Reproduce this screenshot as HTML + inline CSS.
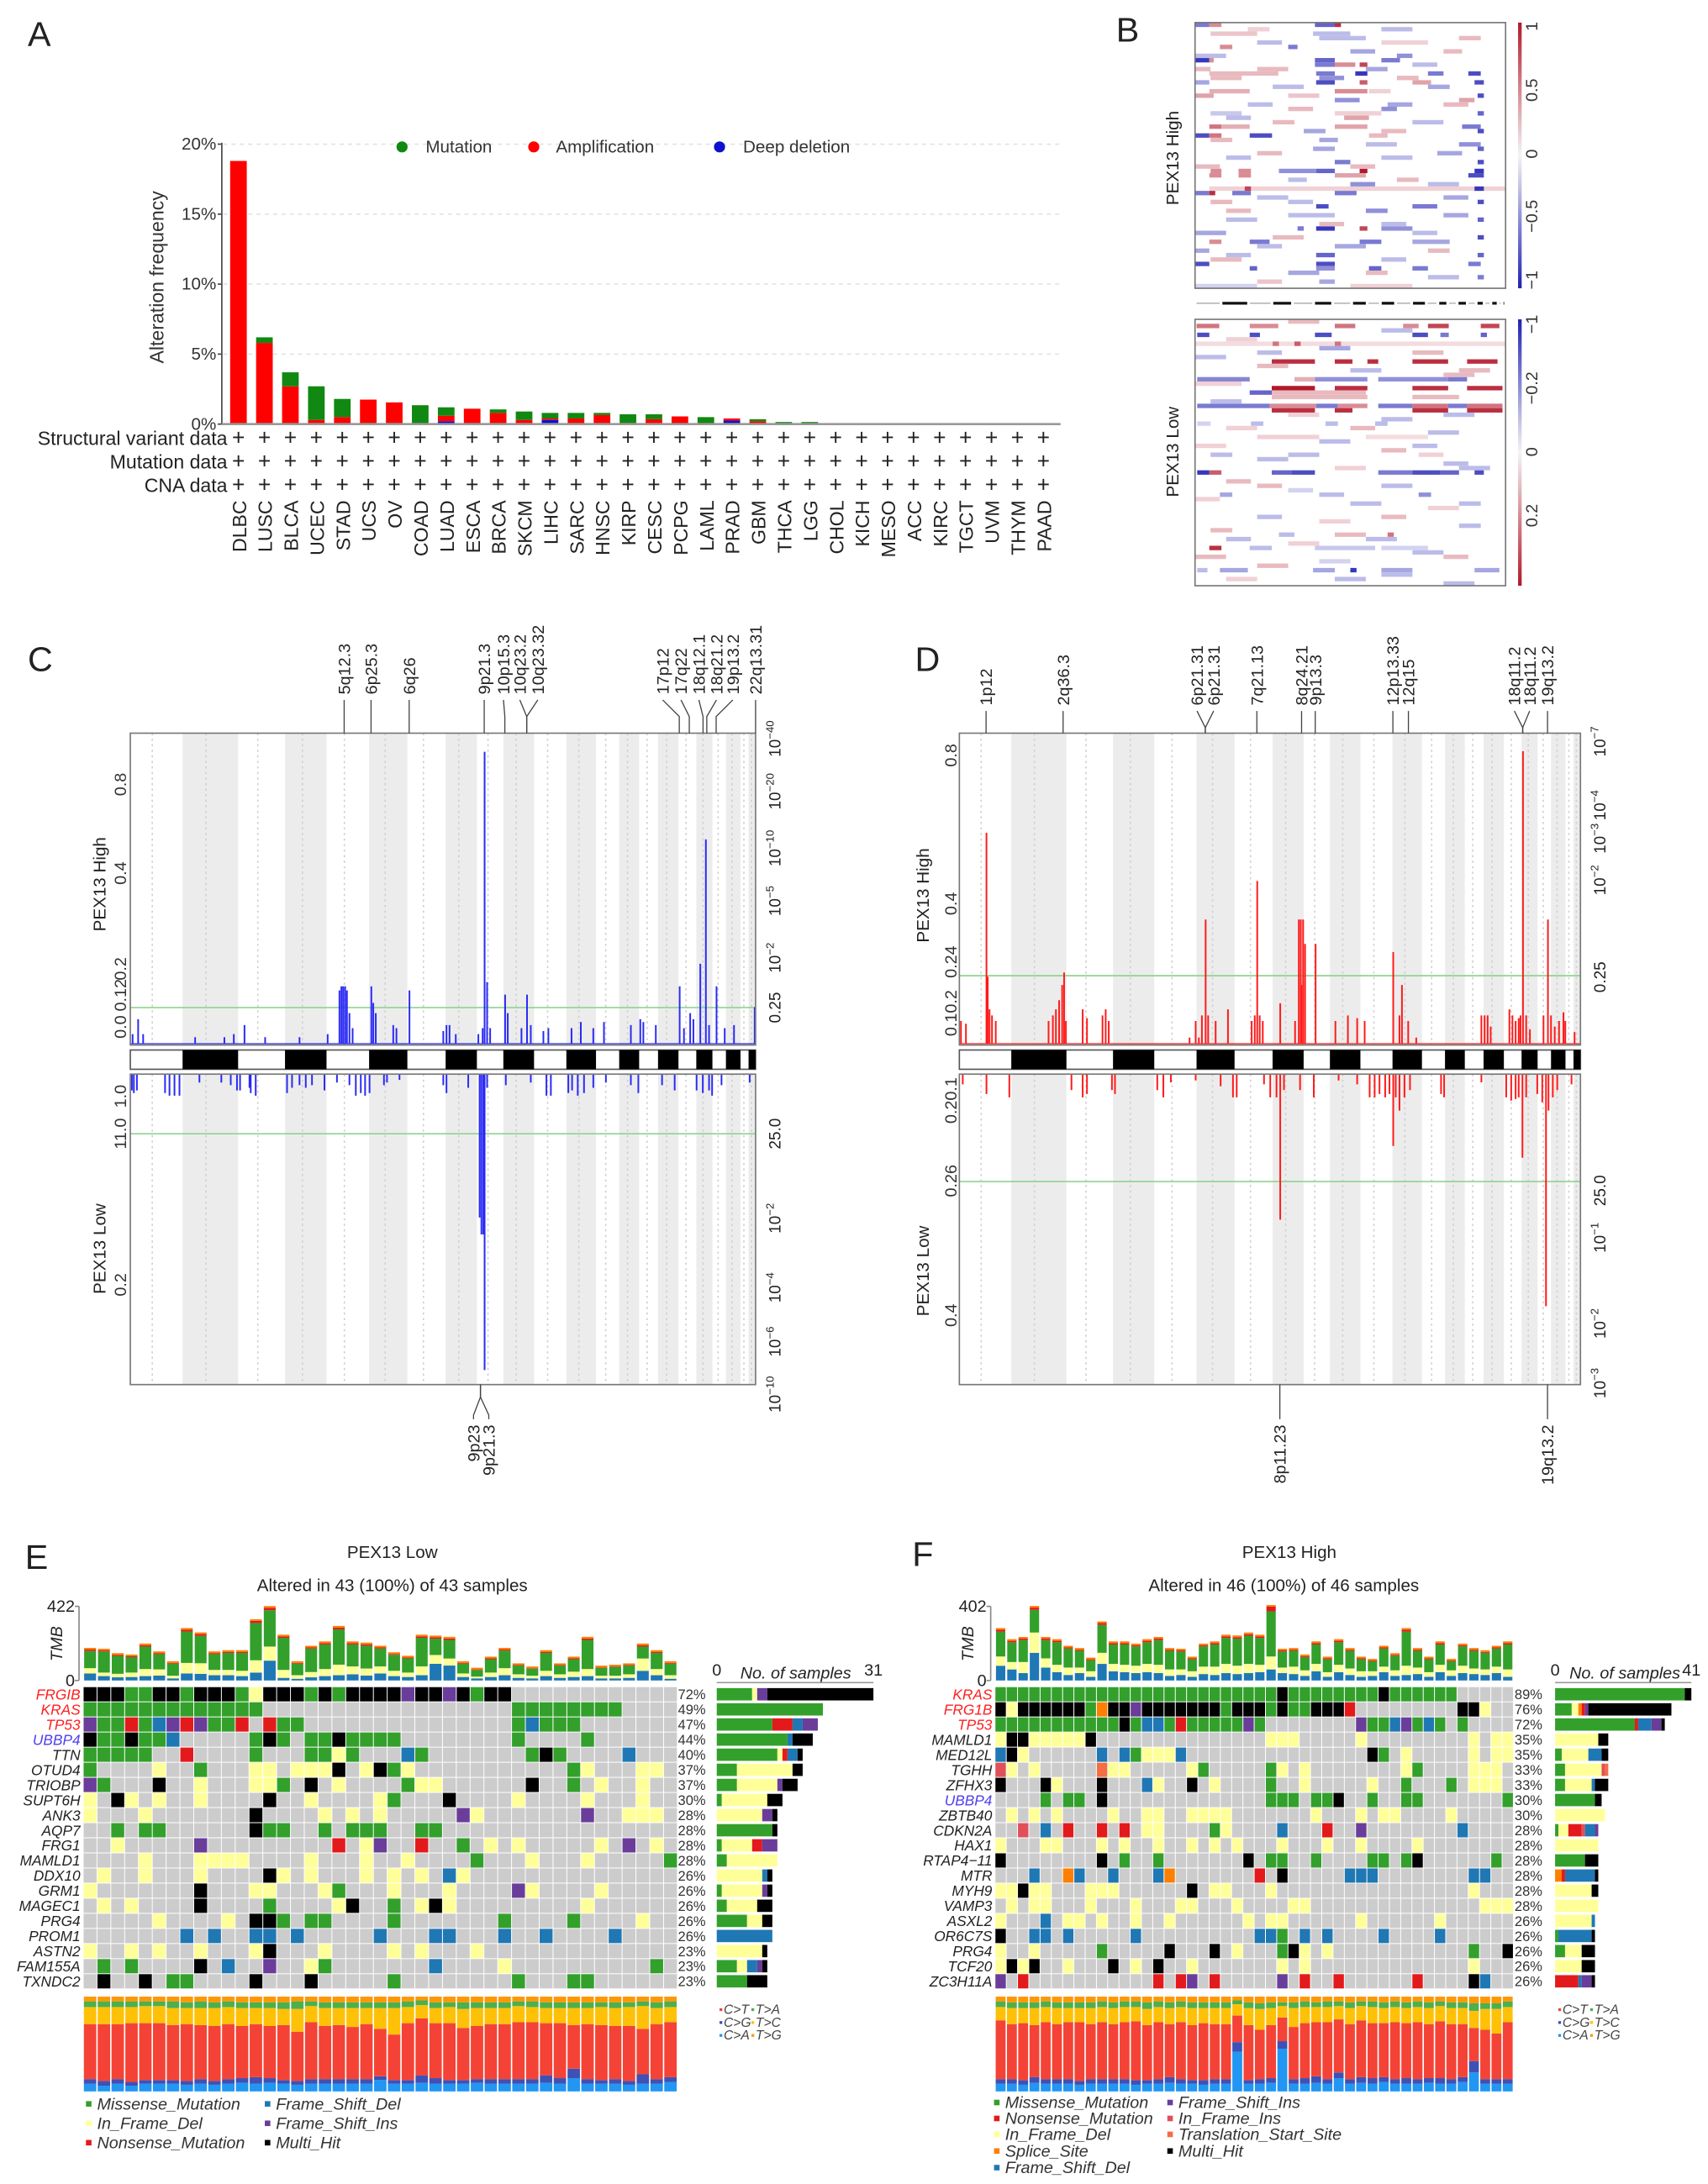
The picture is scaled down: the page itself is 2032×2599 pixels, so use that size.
<!DOCTYPE html>
<html><head><meta charset="utf-8">
<style>
html,body{margin:0;padding:0;background:#fff}
svg{display:block}
text{font-family:"Liberation Sans",Arial,sans-serif}
</style></head>
<body>
<svg id="fig" xmlns="http://www.w3.org/2000/svg" width="2032" height="2599" viewBox="0 0 1232 1575.8" preserveAspectRatio="none"></svg>
<script>
// ---------------- DATA: Panel A ----------------
const aCats=['DLBC','LUSC','BLCA','UCEC','STAD','UCS','OV','COAD','LUAD','ESCA','BRCA','SKCM','LIHC','SARC','HNSC','KIRP','CESC','PCPG','LAML','PRAD','GBM','THCA','LGG','CHOL','KICH','MESO','ACC','KIRC','TGCT','UVM','THYM','PAAD'];
const aMut=[0,0.4,1.0,2.4,1.3,0,0,1.35,0.6,0,0.25,0.6,0.4,0.4,0.15,0.7,0.35,0,0.5,0,0.15,0.15,0.15,0,0,0,0,0,0,0,0,0];
const aAmp=[18.8,5.8,2.7,0.3,0.5,1.75,1.55,0,0.4,1.1,0.8,0.3,0.1,0.4,0.65,0,0.35,0.55,0,0.15,0.2,0,0,0,0,0,0,0,0,0,0,0];
const aDel=[0,0,0,0,0,0,0,0,0.2,0,0,0,0.3,0,0,0,0,0,0,0.25,0,0,0,0,0,0,0,0,0,0,0,0];
const aTicks=[0,5,10,15,20];
const aRows=['Structural variant data','Mutation data','CNA data'];

// ---------------- DATA: genome layout ----------------
const chromBounds=[0,.0836,.1724,.2474,.3138,.3819,.4431,.5043,.5543,.5966,.6457,.6974,.7448,.7819,.8138,.8440,.8767,.9052,.9310,.9526,.9759,.9888,1];

// ---------------- DATA: Panel B (row, start%, end%, value) ----------------
const bUpSeg=[[0,0,4.6,-0.6],[0,4.6,8.5,0.5],[0,38.6,45,-0.7],[0,45,47,0.9],[1,17,24,0.2],[2,38,50,-0.3],
[8,0,4.6,-0.9],[8,4.6,6,0.5],[8,38.6,45,-0.7],[8,60,66,-0.6],[9,38.6,45,-0.6],[9,45,51.6,0.5],[9,53,55.5,0.8],
[11,4.6,26.8,0.3],[11,39,45,-0.6],[11,51.6,55.5,-0.9],[11,88,92,-0.8],[11,75,80,-0.6],[13,0,4.6,-0.4],[13,39,45,-0.8],[13,53,55.5,0.7],[13,90,93,-0.8],[13,70,76,0.4],
[15,4.6,17.6,0.35],[15,45,55.5,0.5],[15,56,63,0.2],[18,17,25,-0.3],[18,62,70,-0.4],[20,45,60,0.2],
[23,4.6,8.5,0.6],[23,8.5,17.6,0.35],[23,45,55.5,0.4],[23,86,92,-0.6],[25,0,4.6,-0.8],[25,4.6,8.5,0.6],[25,17.6,24.8,-0.8],[25,56,62,0.3],
[28,38,45,-0.4],[30,60,70,-0.3],[33,53,55.5,1],[33,27,39,-0.5],[33,39,45,-0.7],[33,90,93,-0.9],[33,5,8.5,0.5],[33,14,18,0.5],
[34,4.6,8.5,0.5],[34,14,18,0.5],[34,45,55,0.4],[34,88,93,-0.8],[37,4.6,100,0.2],[37,16,18,0.8],[37,90,93,-0.9],
[38,0,4.6,-0.6],[38,4.6,6.5,0.9],[38,12,18,-0.6],[38,45,52,-0.6],[41,39,43,-0.8],[41,70,78,-0.6],[43,30,45,-0.3],
[46,39,45,-0.9],[46,53,55.5,0.8],[46,33,35,-0.6],[46,60,70,-0.5],[49,4.6,8.5,0.5],[49,17.6,24,-0.6],[49,53,60,-0.6],[49,70,82,-0.4],
[51,0,4.6,-0.4],[52,39,45,-0.7],[54,0,4.6,-0.8],[54,39,45,-0.8],[54,88,92,-0.6],[55,17.6,20,-0.7],[55,39,45,-0.5],[55,56,60,-0.7],[55,70,75,-0.6],[58,40,45,-0.4],
[16,91,93,-0.8],[20,91,93,-0.7],[24,91,93,-0.8],[28,91,93,-0.7],[31,91,93,-0.8],[40,91,93,-0.8],[44,91,93,-0.7],[48,91,93,-0.8],[52,91,93,-0.7],[57,91,93,-0.6],
[2,5,20,0.25],[3,40,55,-0.3],[4,60,75,0.2],[5,8,12,0.5],[5,30,33,-0.6],[6,50,58,-0.4],[6,80,86,0.3],[7,0,10,-0.3],[7,65,70,-0.5],[10,20,30,0.3],[10,55,62,-0.4],[12,5,15,0.3],[12,40,48,-0.5],[14,25,35,-0.3],[14,75,82,-0.4],[16,0,6,0.4],[17,45,53,-0.5],[17,85,90,0.4],[19,30,38,0.3],[19,60,65,-0.5],[21,10,18,-0.3],[21,48,56,0.4],[22,70,80,-0.3],[24,35,42,-0.4],[26,5,12,0.3],[27,55,65,-0.3],[29,20,28,0.3],[29,78,86,-0.4],[31,45,50,-0.6],[32,0,8,0.3],[35,30,36,-0.3],[35,65,72,0.3],[36,50,58,-0.5],[39,20,30,-0.3],[39,80,88,-0.4],[40,5,12,0.3],[42,55,62,-0.5],[44,10,20,-0.3],[45,40,48,0.3],[47,0,10,-0.4],[47,70,78,-0.3],[48,25,35,0.3],[50,45,55,-0.4],[53,5,15,0.3],[53,60,68,-0.3],[56,30,40,-0.4],[57,75,85,-0.3],[59,0,20,-0.2],[59,50,70,0.2],
[1,60,70,-0.3],[3,85,92,0.3],[4,20,28,-0.3],[9,70,78,-0.3],[10,0,5,0.3],[12,65,72,0.3],[16,30,40,0.25],[18,80,88,0.3],[20,5,15,-0.25],[22,25,32,0.3],[24,60,68,0.3],[26,40,46,-0.4],[27,85,92,-0.5],[30,10,18,-0.3],[32,50,58,0.3],[36,75,85,-0.3],[40,30,38,-0.3],[42,10,18,0.3],[43,80,88,-0.4],[45,60,68,-0.3],[50,20,28,-0.3],[51,75,82,0.3],[52,10,18,-0.3],[56,55,62,0.3],[58,20,28,0.25]];
const bLowSeg=[[1,0.5,7.8,0.6],[1,17.6,26.8,0.5],[1,45,51.6,0.6],[1,67,72,0.5],[1,75,81.7,0.8],[1,92,98,0.8],
[3,0.7,4.6,-0.8],[3,17.6,20.9,-0.8],[3,38.6,44,-0.8],[3,70,75,-0.8],[3,79,81.7,-0.6],[3,92,94,-0.7],
[5,0,100,0.15],[5,25,27,0.6],[5,32,34,0.7],[5,45,47,0.6],
[9,24.7,38.6,0.9],[9,45,50.7,0.9],[9,55.5,59,0.9],[9,70,81.5,0.9],[9,87.6,97.4,0.9],
[13,0.7,17.6,-0.55],[13,32,38.6,0.35],[13,38.6,55.5,-0.5],[13,59,81.5,-0.5],[13,81.5,87.6,-0.6],
[15,24.7,38.6,1],[15,45,55.5,0.9],[15,70,81.5,0.9],[15,87.6,99,0.9],[16,17.6,24.7,-0.7],[16,24.7,55,0.3],
[17,24.7,55.5,0.3],[17,70,85,0.3],
[19,0.7,24,-0.6],[19,24,39,0.5],[19,39,46,-0.6],[19,46,55.5,0.5],[19,59,70,-0.6],[19,70,81.5,0.6],[19,81.5,87.6,-0.6],[19,87.6,99,0.6],
[20,24.7,38.6,0.9],[20,45,50.7,0.9],[20,70,81.5,0.9],[20,87.6,99,0.9],
[23,0.7,5,-0.2],[23,18,22,-0.3],[23,42,46,-0.3],[23,58,62,-0.3],[26,20,40,0.2],[26,55,75,0.15],
[30,5,12,-0.3],[30,30,40,-0.3],[30,72,80,0.2],
[34,0.7,4.6,-0.9],[34,4.6,8.5,0.7],[34,24.7,31,-0.7],[34,31,38.6,-0.8],[34,59,70,-0.6],[34,70,79,-0.8],[34,79,85,-0.7],[34,90,93,-0.8],
[39,8,12,-0.4],[39,40,48,-0.3],[39,72,76,-0.5],[48,27,32,-0.3],[48,45,55,0.3],[48,62,64,0.6],
[51,4.6,8.5,0.9],[51,17.6,24.7,-0.3],[51,38.6,58,-0.25],[51,60,75,-0.2],
[56,0.7,4,-0.3],[56,8,17,-0.4],[56,38,45,-0.4],[56,50,52,-0.9],[56,60,70,-0.4],[56,90,98,-0.4],
[0,30,40,0.3],[2,60,70,-0.3],[4,10,20,0.2],[6,40,50,-0.4],[7,70,80,0.3],[8,0,10,-0.3],[10,20,30,0.3],[11,50,60,-0.3],[12,80,90,0.3],[14,0,15,0.2],[18,5,15,-0.3],[21,30,40,0.2],[22,60,70,-0.3],[24,10,20,0.2],[25,75,85,-0.3],[27,40,50,-0.3],[28,0,10,0.2],[29,60,68,0.3],[31,20,30,-0.3],[32,80,88,-0.3],[33,45,55,0.2],[36,10,18,0.3],[37,60,70,-0.3],[38,30,38,-0.2],[40,0,8,0.2],[41,50,60,-0.3],[42,75,85,0.2],[44,20,28,-0.3],[45,40,50,0.2],[46,85,92,-0.3],[47,5,12,0.3],[49,55,65,-0.3],[50,30,40,0.2],[52,70,80,-0.3],[53,0,10,0.3],[54,40,50,-0.2],[55,20,30,0.3],[57,60,70,-0.3],[58,10,20,0.2],[59,80,90,-0.3],
[7,20,28,-0.3],[11,85,95,0.3],[21,80,90,-0.3],[24,50,58,0.3],[28,70,78,-0.3],[33,85,95,-0.3],[37,20,28,0.3],[41,85,92,-0.3],[44,60,68,0.3],[49,10,18,-0.3],[53,80,88,0.3],[58,45,55,-0.3]];

// ---------------- DATA: Panel C (position permille, score) ----------------
const cHigh=[[3,0.03],[12,0.08],[20,0.03],[103,0.02],[150,0.02],[165,0.03],[182,0.06],[215,0.02],[270,0.02],[315,0.03],[334,0.16],[337,0.17],[340,0.17],[343,0.17],[346,0.16],[350,0.1],[355,0.05],[385,0.17],[388,0.13],[392,0.1],[420,0.06],[425,0.05],[446,0.16],[500,0.04],[505,0.06],[510,0.06],[520,0.03],[556,0.03],[563,0.05],[566,0.95],[570,0.18],[575,0.05],[599,0.15],[603,0.1],[625,0.05],[634,0.15],[640,0.06],[660,0.04],[668,0.05],[705,0.05],[720,0.07],[740,0.05],[757,0.07],[800,0.06],[815,0.08],[820,0.07],[840,0.06],[878,0.17],[885,0.05],[895,0.1],[900,0.08],[911,0.22],[920,0.55],[925,0.06],[937,0.17],[950,0.05],[965,0.06],[998,0.12]];
const cLow=[[2,0.06],[5,0.07],[10,0.06],[55,0.07],[62,0.08],[70,0.08],[78,0.08],[110,0.03],[145,0.03],[160,0.04],[170,0.06],[175,0.06],[190,0.05],[192,0.07],[200,0.08],[250,0.07],[258,0.05],[270,0.04],[280,0.05],[290,0.04],[310,0.06],[330,0.03],[350,0.04],[360,0.08],[368,0.07],[375,0.08],[382,0.07],[405,0.04],[410,0.03],[430,0.02],[500,0.04],[505,0.07],[540,0.05],[558,0.16],[561,0.17],[564,0.17],[566,0.29],[570,0.05],[600,0.04],[640,0.03],[665,0.08],[672,0.08],[700,0.07],[706,0.06],[715,0.08],[725,0.07],[740,0.05],[760,0.03],[800,0.04],[812,0.07],[850,0.04],[870,0.06],[905,0.06],[915,0.07],[925,0.06],[930,0.08],[945,0.04],[990,0.03]];
const cTopLabels=[['5q12.3',342,0],['6p25.3',385,0],['6q26',446,0],['9p21.3',566,0],['10p15.3',599,-1],['10q23.2',634,-5],['10q23.32',634,8],['17p12',878,-12],['17q22',894,-6],['18q12.1',916,-3],['18q21.2',922,7],['19p13.2',937,12],['22q13.31',1000,0]];
const cBotLabels=[['9p23',560,-5],['9p21.3',560,6]];

// ---------------- DATA: Panel D ----------------
const dHigh=[[2,0.08],[10,0.07],[43,0.59],[45,0.22],[48,0.12],[52,0.1],[58,0.08],[143,0.08],[150,0.1],[155,0.12],[160,0.15],[165,0.2],[168,0.23],[171,0.08],[198,0.12],[205,0.09],[230,0.1],[235,0.12],[240,0.08],[370,0.02],[385,0.02],[380,0.08],[390,0.1],[396,0.36],[400,0.1],[412,0.08],[432,0.12],[470,0.08],[475,0.1],[479,0.46],[483,0.1],[488,0.08],[516,0.14],[540,0.08],[546,0.36],[549,0.36],[550,0.2],[553,0.36],[556,0.3],[573,0.3],[605,0.08],[625,0.1],[640,0.09],[652,0.08],[698,0.28],[708,0.1],[712,0.2],[722,0.08],[735,0.02],[840,0.1],[845,0.1],[850,0.1],[855,0.06],[885,0.12],[890,0.1],[895,0.08],[900,0.09],[903,0.1],[907,0.81],[912,0.1],[918,0.05],[940,0.1],[947,0.36],[952,0.1],[958,0.06],[965,0.08],[972,0.11],[975,0.08],[990,0.04]];
const dLow=[[5,0.05],[43,0.1],[80,0.12],[180,0.08],[198,0.12],[205,0.1],[245,0.08],[250,0.1],[318,0.08],[328,0.12],[340,0.04],[380,0.03],[420,0.06],[440,0.12],[446,0.12],[490,0.05],[500,0.12],[510,0.12],[516,0.3],[522,0.08],[548,0.08],[570,0.12],[610,0.03],[640,0.05],[660,0.12],[668,0.12],[676,0.1],[685,0.12],[692,0.1],[698,0.23],[702,0.12],[708,0.2],[716,0.12],[725,0.08],[775,0.1],[780,0.12],[840,0.04],[880,0.12],[888,0.14],[895,0.13],[900,0.12],[906,0.24],[912,0.12],[930,0.1],[938,0.15],[944,0.39],[948,0.2],[955,0.12],[962,0.08],[985,0.05]];
const dTopLabels=[['1p12',43,0],['2q36.3',167,0],['6p21.31',396,-6],['6p21.31',396,6],['7q21.13',479,0],['8q24.21',551,0],['9p13.3',573,0],['12p13.33',698,0],['12q15',723,0],['18q11.2',907,-6],['18q11.2',907,5],['19q13.2',947,0]];
const dBotLabels=[['8p11.23',516,0],['19q13.2',947,0]];

// ---------------- DATA: Panel E ----------------
const eGenes=['FRGIB','KRAS','TP53','UBBP4','TTN','OTUD4','TRIOBP','SUPT6H','ANK3','AQP7','FRG1','MAMLD1','DDX10','GRM1','MAGEC1','PRG4','PROM1','ASTN2','FAM155A','TXNDC2'];
const ePct=['72%','49%','47%','44%','40%','37%','37%','30%','28%','28%','28%','28%','26%','26%','26%','26%','26%','23%','23%','23%'];
const eRows=['0-2K 3-4G 5-6K 7G 8-10K 11G 12Y 13-15K 16G 17K 18G 19-22K 23P 24-25K 26P 27K 28G 29-30K',
'0-12G 31-38G',
'0P 1-2G 3R 4G 5B 6P 7R 8P 9-10G 11R 13R 14-15G 31G 32B 33-35G',
'0K 1-2G 3K 4-5G 6B 12G 13K 14G 16-17G 18K 19-22G 31G 36G',
'0-4G 7R 12G 16-17G 18Y 19G 23B 24G 32G 33K 34G 39B',
'0G 5Y 8G 12-13Y 15-17Y 18K 20Y 21K 22G 23Y 35G 36Y 40-41Y',
'0P 1G 5K 8Y 12-13Y 14G 16K 18Y 23G 24-25Y 32K 35G 37Y 40Y',
'0Y 2K 3Y 5Y 8Y 13K 16Y 21Y 22G 26K 31Y 36Y 40Y',
'0Y 4Y 12K 17Y 19Y 21Y 27P 28Y 36P 39-41Y',
'2G 4-5G 12K 13-14G 17G 19-21G 24-25G',
'2Y 8P 18R 20Y 21P 24R 27G 29Y 31Y 37Y 39P 41Y',
'4Y 8-11Y 16Y 20Y 23Y 28G 32Y 36Y 42G',
'1Y 4Y 8Y 13K 14Y 16Y 20Y 22Y 24Y 26B 27Y',
'0Y 8K 12-13Y 17Y 18G 22Y 26Y 31P 32Y 37Y',
'1Y 3Y 8K 13G 18Y 19K 22G 24Y 25K 26Y 36Y',
'5Y 10Y 12-13K 14G 16-17G 22G 30G 35G 40Y',
'7B 9B 12-13B 15B 21B 25-26B 30B 33B 38B',
'0Y 3Y 5Y 8Y 12Y 13K 17Y 22Y 24Y 28Y',
'1G 3G 8K 10B 13P 16Y 17G 25B 30Y 41G',
'1K 4K 6-7G 12K 16K 22G 31G 35-36G'];
const eTmbFsd=[40,25,18,20,25,28,12,40,38,30,30,25,45,113,15,10,18,25,30,35,28,40,25,20,30,95,85,20,12,20,30,15,12,25,15,20,25,12,12,15,55,30,10];
const eTmbIfd=[30,20,20,25,40,35,15,60,60,30,30,30,70,80,45,20,30,40,60,45,40,40,30,25,50,50,40,20,10,25,40,20,15,30,20,30,40,15,15,20,70,35,20];
const eTmbMis=[98,120,102,88,128,87,69,179,156,90,97,102,212,207,183,66,134,140,201,125,130,102,91,81,163,93,106,56,38,76,100,50,40,102,50,71,166,45,50,50,68,92,66];
const eTmbNon=[8,6,6,5,8,6,4,10,10,6,6,6,12,14,8,4,6,8,10,8,8,6,5,5,8,8,8,4,3,5,6,3,3,6,3,5,8,3,3,3,8,6,4];
const eSpCA=[8,6,8,6,8,8,8,7,8,7,8,9,8,9,8,7,8,8,8,8,8,12,8,8,9,8,8,8,9,8,8,8,8,9,8,14,8,8,8,7,8,8,10];
const eSpCG=[5,5,5,4,4,4,4,4,5,4,5,5,7,5,4,4,5,5,5,5,5,4,4,4,8,6,4,4,4,5,5,5,5,8,6,10,5,4,5,4,10,5,5];
const eSpCT=[58,60,58,62,60,60,58,60,57,58,58,55,56,55,58,52,60,56,57,55,58,50,48,60,60,58,60,55,56,58,58,60,60,55,58,46,58,58,56,58,48,58,58];
const eSpTC=[18,18,18,17,18,18,18,17,18,19,18,19,17,19,17,24,17,19,18,20,17,22,28,17,14,16,17,20,19,17,17,17,16,16,16,18,17,19,19,20,24,17,16];
const eSpTA=[6,6,6,6,5,5,7,6,7,6,6,6,6,6,7,8,5,6,6,6,6,6,6,6,5,6,5,7,6,6,6,5,6,6,6,6,6,5,6,5,5,6,6];

// ---------------- DATA: Panel F ----------------
const fGenes=['KRAS','FRG1B','TP53','MAMLD1','MED12L','TGHH','ZFHX3','UBBP4','ZBTB40','CDKN2A','HAX1','RTAP4\u221211','MTR','MYH9','VAMP3','ASXL2','OR6C7S','PRG4','TCF20','ZC3H11A'];
const fPct=['89%','76%','72%','35%','35%','33%','33%','30%','30%','28%','28%','28%','28%','28%','28%','26%','26%','26%','26%','26%'];
const fRows=['0-24G 25K 26-33G 34K 35-40G',
'0K 1Y 2-7K 8G 9O 10-11K 12P 13-19K 20G 21-23K 24G 25K 26-27G 28-30K 31R 41-42K 43Y',
'0-10G 11K 12G 13-14B 15G 16R 17-21G 22P 23G 32P 33-34G 35B 36P 37G 38B 39G 41G',
'0Y 1-2K 3-7Y 8K 24-26Y 32Y 42Y 44-45Y',
'0B 1K 2Y 9B 11B 12G 13-15Y 16B 33K 34G 36Y 42Y 44Y 45Y',
'0I 1Y 3Y 9T 10-11Y 17Y 18G 24G 25Y 27Y 36Y 37G 42Y 43Y 44Y',
'0K 4K 5Y 9K 13B 14Y 17K 19Y 24G 27Y 33Y 36G 40G 42Y 43-44Y',
'4G 6-7G 9K 24-26G 28-29G 30K 33G 36-37G 45G',
'1Y 3Y 5Y 10Y 13Y 14Y 17-19Y 20Y 28Y 32Y 34-35Y 40Y',
'2I 4B 6R 9R 11R 13Y 14Y 19G 20Y 25B 29R 32P 41B',
'0Y 4-5Y 9Y 11Y 14Y 17Y 19Y 21Y 25Y 29Y 32Y 37Y',
'0K 9K 11G 14G 22K 24-25G 28G 33-34G 36G 37K 44G',
'3B 6O 7B 10B 14B 15O 23R 25K 31-33B 42-43B',
'0Y 1Y 2K 3-4Y 8-10Y 17K 19-20Y 24Y 42Y',
'1Y 3-4Y 8Y 12Y 16-17Y 21Y 26Y 27Y 43-45Y',
'0Y 4B 6-7Y 9Y 12Y 15Y 22Y 24-25Y 32Y 39Y',
'0K 3-4B 6B 12B 23-24B 25G 27B 29B 34B 39B',
'0Y 3Y 9G 15K 19K 21Y 25G 26K 27Y 29Y 42G 45K',
'0Y 1K 2Y 3K 6Y 10K 12Y 14K 17Y 25Y 27Y 42Y',
'0P 2R 14R 16R 17P 19R 25P 27R 30R 37R 42K 43B'];
const fTmbFsd=[80,60,40,150,70,45,30,40,20,90,50,45,40,45,40,25,30,20,35,30,40,35,40,45,60,40,35,25,50,20,45,30,20,25,45,25,30,35,20,45,25,40,35,30,40,20];
const fTmbIfd=[50,40,60,110,50,40,40,30,30,60,40,40,40,45,45,35,30,30,40,45,50,45,50,40,70,30,40,30,40,25,40,35,30,25,30,30,50,35,25,40,30,40,30,30,35,40];
const fTmbMis=[135,107,119,123,99,122,103,91,60,151,105,110,105,117,134,101,97,65,110,120,141,147,153,146,245,87,86,72,105,70,122,96,65,54,98,79,185,91,70,110,49,105,96,90,98,135];
const fTmbNon=[10,8,8,12,8,8,6,6,5,10,8,8,6,8,8,6,6,5,6,8,8,8,8,8,25,6,6,5,8,5,8,6,5,4,6,5,10,6,5,8,4,6,6,5,6,8];
const fSpCA=[8,8,7,9,8,8,8,7,8,8,8,8,7,8,8,9,8,8,7,8,8,42,8,8,9,45,8,8,9,8,14,8,9,8,10,8,8,8,9,8,8,10,20,8,8,8];
const fSpCG=[5,5,5,6,5,5,5,4,5,5,5,5,5,4,5,6,5,4,5,5,5,10,4,5,5,8,5,6,7,5,6,5,6,6,5,5,6,5,5,6,5,5,12,5,5,5];
const fSpCT=[62,58,60,55,60,58,60,62,58,60,58,60,62,58,60,56,60,58,60,58,58,28,58,52,56,25,55,58,57,60,56,58,60,58,57,60,58,60,57,60,58,56,35,52,48,60];
const fSpTC=[14,17,16,18,16,17,15,15,17,16,17,16,15,17,16,17,16,18,16,17,17,12,18,22,18,12,20,17,16,16,14,17,15,17,16,16,16,16,17,16,17,17,18,22,26,16];
const fSpTA=[6,6,6,6,6,6,6,6,6,6,6,6,6,7,6,6,6,6,6,6,6,4,6,6,6,4,6,6,5,6,5,6,5,6,6,6,6,6,6,5,6,6,8,6,6,6];

// ---------------- helpers ----------------
const NS='http://www.w3.org/2000/svg';
const root=document.getElementById('fig');
function el(tag,attrs,parent,name){
  const e=document.createElementNS(NS,tag);
  for(const k in attrs)e.setAttribute(k,attrs[k]);
  
  
  (parent||root).appendChild(e);
  return e;
}
function txt(s,x,y,o,parent,name){
  o=o||{};
  const a={x:x,y:y,'font-size':o.size||12,fill:o.fill||'#222'};
  if(o.anchor)a['text-anchor']=o.anchor;
  if(o.italic)a['font-style']='italic';
  if(o.family)a['font-family']=o.family;
  if(o.rot!==undefined)a.transform='rotate('+o.rot+' '+x+' '+y+')';
  const t=el('text',a,parent,name);
  t.textContent=s;
  return t;
}
function supLabel(base,exp,x,y,parent,name){
  const t=el('text',{x:x,y:y,'font-size':11.5,fill:'#222','text-anchor':'middle',transform:'rotate(-90 '+x+' '+y+')'},parent,name);
  const t1=document.createElementNS(NS,'tspan');t1.textContent=base;t.appendChild(t1);
  if(exp){const t2=document.createElementNS(NS,'tspan');t2.setAttribute('dy','-5');t2.setAttribute('font-size','8');t2.textContent=exp;t.appendChild(t2);}
  return t;
}
function pw(stops,ys,v){
  for(let i=0;i<stops.length-1;i++){
    if(v<=stops[i+1]||i==stops.length-2){
      const t=(v-stops[i])/(stops[i+1]-stops[i]);return ys[i]+t*(ys[i+1]-ys[i]);
    }
  }
}
function parseRow(spec,n){
  const a=Array(n).fill('.');
  spec.split(' ').forEach(tk=>{const m=tk.match(/^(\d+)(?:-(\d+))?([A-Z])$/);const s=+m[1],e=m[2]?+m[2]:s;for(let i=s;i<=e&&i<n;i++)a[i]=m[3];});
  return a;
}
function heatColor(v){
  const t=Math.min(1,Math.abs(v));
  const c=v>=0?[178,24,43]:[33,33,180];
  const r=Math.round(255+(c[0]-255)*t),g=Math.round(255+(c[1]-255)*t),b=Math.round(255+(c[2]-255)*t);
  return 'rgb('+r+','+g+','+b+')';
}

// panel letters
[['A',20,33],['B',805,30],['C',20,484],['D',660,484],['E',18,1132],['F',658,1130]].forEach(p=>{
  txt(p[0],p[1],p[2],{size:25},root,'panel-label-'+p[0].toLowerCase());
});

// ---------------- Panel A ----------------
(function(){
  const g=el('g',{},root,'panel-a-alteration-chart');
  const xA=i=>172+i*18.73, yA=v=>306-v*10.1;
  aTicks.forEach(t=>{
    if(t>0){el('line',{x1:161,x2:765,y1:yA(t),y2:yA(t),stroke:'#e2e2e2','stroke-dasharray':'3,3'},g,'gridline-'+t);}
    el('line',{x1:157,x2:160,y1:yA(t),y2:yA(t),stroke:'#444'},g,'y-tick-'+t);
    txt(t+'%',156,yA(t)+4,{size:12.5,anchor:'end',family:'"Liberation Sans Narrow","Liberation Sans",sans-serif',fill:'#333'},g,'y-tick-label-'+t);
  });
  el('line',{x1:160,x2:160,y1:103,y2:306,stroke:'#444'},g,'y-axis');
  txt('Alteration frequency',118,200,{size:14,anchor:'middle',rot:-90,fill:'#333'},g,'y-axis-title');
  aCats.forEach((c,i)=>{
    const x=xA(i)-6;let y0=yA(0);
    const segs=[[aDel[i],'#1010d0','deep-deletion'],[aAmp[i],'#ff0000','amplification'],[aMut[i],'#118811','mutation']];
    segs.forEach(s=>{if(s[0]>0){const h=s[0]*10.1;el('rect',{x:x,y:y0-h,width:12,height:h,fill:s[1]},g,'bar-'+c.toLowerCase()+'-'+s[2]);y0-=h;}});
    txt(c,xA(i)+5.5,361,{size:14,anchor:'end',rot:-90,fill:'#222'},g,'category-label-'+c.toLowerCase());
    [321,338,355].forEach(yy=>{txt('+',xA(i),yy,{size:16,anchor:'middle'},g,'data-availability-plus');});
  });
  el('line',{x1:160,x2:765,y1:306,y2:306,stroke:'#999','stroke-width':1.6},g,'x-axis-baseline');
  aRows.forEach((r,k)=>{txt(r,164,[321,338,355][k],{size:14,anchor:'end',family:'"Liberation Sans Narrow","Liberation Sans",sans-serif'},g,'row-label-'+k);});
  [['#118811',290,'Mutation',307],['#ff0000',385,'Amplification',401],['#1010d0',519,'Deep deletion',536]].forEach(L=>{
    el('circle',{cx:L[1],cy:106,r:4,fill:L[0]},g,'legend-marker-'+L[2].toLowerCase().replace(' ','-'));
    txt(L[2],L[3],110,{size:12.5,family:'"Liberation Sans Narrow","Liberation Sans",sans-serif',fill:'#333'},g,'legend-entry-'+L[2].toLowerCase().replace(' ','-'));
  });
})();

// ---------------- Panel B ----------------
(function(){
  const g=el('g',{},root,'panel-b-heatmaps');
  const x0=862,x1=1086;
  function hm(segs,y0,y1,name){
    const hg=el('g',{},g,name);
    const rh=(y1-y0)/60;
    segs.forEach(s=>{
      el('rect',{x:x0+s[1]/100*(x1-x0),y:y0+s[0]*rh,width:Math.max(0.8,(s[2]-s[1])/100*(x1-x0)),height:rh,fill:heatColor(s[3])},hg,'heat-cell');
    });
    el('rect',{x:x0,y:y0,width:x1-x0,height:y1-y0,fill:'none',stroke:'#777','stroke-width':1},hg,name+'-frame');
  }
  hm(bUpSeg,16.3,208,'heatmap-pex13-high');
  hm(bLowSeg,230.4,422.6,'heatmap-pex13-low');
  for(let c=0;c<22;c++){
    const a=x0+chromBounds[c]*(x1-x0)+1,b=x0+chromBounds[c+1]*(x1-x0)-1;
    el('line',{x1:a,x2:b,y1:218.8,y2:218.8,stroke:c%2?'#111':'#bbb','stroke-width':c%2?2:1},g,'chromosome-marker-'+(c+1));
  }
  const defs=el('defs',{},g,'defs');
  const g1=el('linearGradient',{id:'cbUp',x1:0,y1:0,x2:0,y2:1},defs,'colorbar-gradient-high');
  [['0','#b2182b'],['0.5','#f4f4f4'],['1','#2121b4']].forEach(s=>{el('stop',{offset:s[0],'stop-color':s[1]},g1,'gradient-stop');});
  const g2=el('linearGradient',{id:'cbLow',x1:0,y1:0,x2:0,y2:1},defs,'colorbar-gradient-low');
  [['0','#2121b4'],['0.5','#f4f4f4'],['1','#b2182b']].forEach(s=>{el('stop',{offset:s[0],'stop-color':s[1]},g2,'gradient-stop');});
  el('rect',{x:1095,y:16.3,width:2.6,height:191.7,fill:'url(#cbUp)'},g,'colorbar-high');
  el('rect',{x:1095,y:230.4,width:2.6,height:192.2,fill:'url(#cbLow)'},g,'colorbar-low');
  [['1',19],['0.5',65],['0',111],['\u22120.5',156],['\u22121',202],['\u22121',234],['\u22120.2',280],['0',326],['0.2',372]].forEach(t=>{
    txt(t[0],1109,t[1],{size:12,anchor:'middle',rot:-90,fill:'#333'},g,'colorbar-tick-label');
  });
  txt('PEX13 High',850,114,{size:12.5,anchor:'middle',rot:-90},g,'heatmap-high-label');
  txt('PEX13 Low',850,326,{size:12.5,anchor:'middle',rot:-90},g,'heatmap-low-label');
})();

// ---------------- Panels C & D (GISTIC plots) ----------------
function gistic(o){
  const g=el('g',{},root,o.name);
  const X=p=>o.x0+p/1000*(o.x1-o.x0);
  const top=529,midTop=754,barTop=757.6,barBot=771.5,lowTop=775,bottom=999;
  for(let c=0;c<22;c++){
    const a=X(chromBounds[c]*1000),b=X(chromBounds[c+1]*1000);
    if(c%2==1){
      el('rect',{x:a,y:top,width:b-a,height:midTop-top,fill:'#ececec'},g,'chromosome-shade-'+(c+1));
      el('rect',{x:a,y:lowTop,width:b-a,height:bottom-lowTop,fill:'#ececec'},g,'chromosome-shade-'+(c+1));
    }
    const cm=a+(b-a)*0.42;
    el('line',{x1:cm,x2:cm,y1:top,y2:midTop,stroke:'#cfcfcf','stroke-dasharray':'1.5,2.5'},g,'centromere-line');
    el('line',{x1:cm,x2:cm,y1:lowTop,y2:bottom,stroke:'#cfcfcf','stroke-dasharray':'1.5,2.5'},g,'centromere-line');
  }
  el('line',{x1:o.x0,x2:o.x1,y1:o.greenUp,y2:o.greenUp,stroke:'#8fd48f','stroke-width':1},g,'significance-threshold-high');
  el('line',{x1:o.x0,x2:o.x1,y1:o.greenLow,y2:o.greenLow,stroke:'#8fd48f','stroke-width':1},g,'significance-threshold-low');
  function trace(peaks,stops,ys,base,name){
    const pk=peaks.slice().sort((a,b)=>a[0]-b[0]);
    let d='M'+o.x0+','+base;
    pk.forEach(p=>{const x=X(p[0]),y=pw(stops,ys,p[1]);d+=' L'+x.toFixed(1)+','+base+' L'+x.toFixed(1)+','+y.toFixed(1)+' L'+(x+0.5).toFixed(1)+','+y.toFixed(1)+' L'+(x+0.5).toFixed(1)+','+base;});
    d+=' L'+o.x1+','+base;
    el('path',{d:d,fill:'none',stroke:o.color,'stroke-width':0.7},g,name);
  }
  trace(o.high,o.upStops,o.upYs,o.upYs[0],'score-trace-pex13-high');
  trace(o.low,o.lowStops,o.lowYs,o.lowYs[0],'score-trace-pex13-low');
  el('rect',{x:o.x0,y:top,width:o.x1-o.x0,height:midTop-top,fill:'none',stroke:'#777'},g,'plot-frame-high');
  el('rect',{x:o.x0,y:lowTop,width:o.x1-o.x0,height:bottom-lowTop,fill:'none',stroke:'#777'},g,'plot-frame-low');
  el('rect',{x:o.x0,y:barTop,width:o.x1-o.x0,height:barBot-barTop,fill:'#fff',stroke:'#555'},g,'chromosome-bar');
  for(let c=1;c<22;c+=2){
    const a=X(chromBounds[c]*1000),b=X(chromBounds[c+1]*1000);
    el('rect',{x:a,y:barTop,width:b-a,height:barBot-barTop,fill:'#000'},g,'chromosome-block-'+(c+1));
  }
  o.topLabels.forEach(L=>{
    const cx=X(L[1]),lx=cx+L[2];
    el('polyline',{points:cx+','+top+' '+cx+','+(o.topLabelY+16)+' '+lx+','+(o.topLabelY+4),fill:'none',stroke:'#444','stroke-width':0.8},g,'peak-leader-line');
    txt(L[0],lx+4.3,o.topLabelY,{size:12,rot:-90,fill:'#222'},g,'peak-label-'+L[0]);
  });
  o.botLabels.forEach(L=>{
    const cx=X(L[1]),lx=cx+L[2];
    el('polyline',{points:cx+','+bottom+' '+cx+','+(bottom+9)+' '+lx+','+(bottom+22)+' '+lx+','+(bottom+25),fill:'none',stroke:'#444','stroke-width':0.8},g,'peak-leader-line');
    txt(L[0],lx+4.3,bottom+29,{size:12,rot:-90,anchor:'end',fill:'#222'},g,'peak-label-'+L[0]);
  });
  o.leftTicks.forEach(t=>{txt(t[0],o.leftX,t[1],{size:12,anchor:'middle',rot:-90,fill:'#333'},g,'left-tick-label');});
  o.rightTicks.forEach(t=>{supLabel(t[0],t[1],o.rightX,t[2],g,'right-tick-label');});
  txt('PEX13 High',o.titleX,o.titleHighY,{size:12.5,anchor:'middle',rot:-90},g,'track-title-high');
  txt('PEX13 Low',o.titleX,o.titleLowY,{size:12.5,anchor:'middle',rot:-90},g,'track-title-low');
}
gistic({name:'panel-c-gistic-deletions',x0:94,x1:545,color:'#2a2af5',high:cHigh,low:cLow,
  upStops:[0,0.12,0.2,0.4,0.8,1.0],upYs:[753,727,703,630,566,535],
  lowStops:[0,0.1,0.11,0.2,0.3],lowYs:[775,794,817,927,995],
  greenUp:727,greenLow:818,topLabels:cTopLabels,botLabels:cBotLabels,topLabelY:501,
  leftX:91,leftTicks:[['0.8',566],['0.4',630],['0.2',699],['0.12',718],['0.0',741],['1.0',791],['11.0',818],['0.2',927]],
  rightX:563,rightTicks:[['10','\u221240',533],['10','\u221220',571],['10','\u221210',612],['10','\u22125',650],['10','\u22122',691],['0.25','',727],['25.0','',818],['10','\u22122',879],['10','\u22124',929],['10','\u22126',968],['10','\u221210',1006]],
  titleX:76,titleHighY:638,titleLowY:901});
gistic({name:'panel-d-gistic-amplifications',x0:692,x1:1140,color:'#ff1a1a',high:dHigh,low:dLow,
  upStops:[0,0.1,0.2,0.24,0.4,0.8,0.85],upYs:[753,733,711,699,652,545,532],
  lowStops:[0,0.1,0.2,0.26,0.4,0.46],lowYs:[775,789,801,852,949,992],
  greenUp:704,greenLow:852.5,topLabels:dTopLabels,botLabels:dBotLabels,topLabelY:509,
  leftX:690,leftTicks:[['0.8',545],['0.4',652],['0.24',694],['0.10.2',731],['0.20.1',794],['0.26',852],['0.4',949]],
  rightX:1158,rightTicks:[['10','\u22127',535],['10','\u22124',581],['10','\u22123',605],['10','\u22122',635],['0.25','',705],['25.0','',859],['10','\u22121',893],['10','\u22122',955],['10','\u22123',998]],
  titleX:670,titleHighY:646,titleLowY:917});

// ---------------- Panels E & F (oncoplots) ----------------
const mutColors={G:'#33a02c',Y:'#ffff99',R:'#e31a1c',B:'#1f78b4',P:'#6a3d9a',K:'#000000',O:'#ff7f00',I:'#e0505a',T:'#f46d43'};
const mutNames={G:'missense',Y:'in-frame-del',R:'nonsense',B:'frame-shift-del',P:'frame-shift-ins',K:'multi-hit',O:'splice-site',I:'in-frame-ins',T:'translation-start-site'};
function onco(o){
  const g=el('g',{},root,o.name);
  const gy0=1217,gy1=1435,h=(gy1-gy0)/20,w=(o.gx1-o.gx0)/o.n;
  txt(o.title,o.tx,1124,{size:12.5,anchor:'middle'},g,'oncoplot-title');
  txt(o.sub,o.tx2,1148,{size:12.5,anchor:'middle'},g,'oncoplot-subtitle');
  const tb=1212.5,tt=1159,ty=v=>tb-v/o.tmbMax*(tb-tt);
  el('line',{x1:o.ax,x2:o.ax,y1:tt,y2:tb,stroke:'#888'},g,'tmb-axis');
  el('line',{x1:o.ax-3,x2:o.ax,y1:tt,y2:tt,stroke:'#888'},g,'tmb-tick-max');
  el('line',{x1:o.ax-3,x2:o.ax,y1:tb,y2:tb,stroke:'#888'},g,'tmb-tick-zero');
  txt(String(o.tmbMax),o.ax-3,tt+4,{size:12,anchor:'end'},g,'tmb-max-label');
  txt('0',o.ax-3,tb+4,{size:12,anchor:'end'},g,'tmb-zero-label');
  txt('TMB',o.tmbLX,1186,{size:12,anchor:'middle',rot:-90,italic:true},g,'tmb-axis-title');
  for(let i=0;i<o.n;i++){
    let y=tb;const x=o.gx0+i*w+0.7;
    [[o.fsd[i],'#1f78b4'],[o.ifd[i],'#ffff99'],[o.mis[i],'#33a02c'],[o.non[i],'#e31a1c']].forEach(s=>{
      const hh=s[0]/o.tmbMax*(tb-tt);
      el('rect',{x:x,y:y-hh,width:w-1.4,height:hh,fill:s[1]},g,'tmb-bar-segment');
      y-=hh;
    });
    el('rect',{x:x,y:y-1.2,width:w-1.4,height:1.2,fill:'#ff7f00'},g,'tmb-bar-cap');
  }
  o.rows.forEach((spec,r)=>{
    const cells=parseRow(spec,o.n);
    const yy=gy0+r*h;
    cells.forEach((c,i)=>{
      el('rect',{x:o.gx0+i*w+0.3,y:yy+0.3,width:w-0.6,height:h-0.6,fill:c=='.'?'#cccccc':mutColors[c]},g,c=='.'?'empty-cell':'mutation-cell-'+mutNames[c]);
    });
    txt(o.genes[r],o.gx0-2,yy+h/2+3.8,{size:10.5,anchor:'end',italic:true,fill:o.geneColor(r)},g,'gene-label-'+o.genes[r].toLowerCase());
    txt(o.pct[r],o.px,yy+h/2+3.6,{size:10,fill:'#333'},g,'percent-label-'+o.genes[r].toLowerCase());
    const order=['G','Y','O','R','I','T','B','P','K'];
    let x=o.rb0;
    order.forEach(k=>{
      const cnt=cells.filter(c=>c==k).length;
      if(cnt>0){const ww=cnt/o.rbMax*(o.rb1-o.rb0);el('rect',{x:x,y:yy+1,width:ww,height:h-2,fill:mutColors[k]},g,'sample-count-bar-'+mutNames[k]);x+=ww;}
    });
  });
  el('line',{x1:o.rb0,x2:o.rb1,y1:1214,y2:1214,stroke:'#999'},g,'sample-count-axis');
  txt('0',o.rb0,1209,{size:12,anchor:'middle'},g,'sample-count-zero');
  txt(String(o.rbMax),o.rb1,1209,{size:12,anchor:'middle'},g,'sample-count-max');
  txt('No. of samples',o.nsx,1211,{size:12,anchor:'middle',italic:true},g,'sample-count-title');
  const sy0=1440.6,sy1=1509,sh=sy1-sy0;
  for(let i=0;i<o.n;i++){
    const x=o.gx0+i*w+0.5;let y=sy1;
    const parts=[[o.ca[i],'#2196f3'],[o.cg[i],'#3f51b5'],[o.ct[i],'#f44336'],[o.tc[i],'#ffc107'],[o.ta[i],'#4caf50']];
    let used=0;
    parts.forEach(p=>{const hh=p[0]/100*sh;el('rect',{x:x,y:y-hh,width:w-1,height:hh,fill:p[1]},g,'spectrum-segment');y-=hh;used+=p[0];});
    const rest=(100-used)/100*sh;
    el('rect',{x:x,y:y-rest,width:w-1,height:rest,fill:'#ff9800'},g,'spectrum-segment-t-g');
  }
  [[['C>T','#f44336'],['T>A','#4caf50']],[['C>G','#3f51b5'],['T>C','#ffc107']],[['C>A','#2196f3'],['T>G','#ff9800']]].forEach((row,k)=>{
    row.forEach((it,j)=>{
      const x=o.slx+j*23,y=1453+k*9.3;
      el('rect',{x:x,y:y-4,width:2,height:2,fill:it[1]},g,'spectrum-legend-marker');
      txt(it[0],x+3,y,{size:9.5,italic:true,fill:'#444'},g,'spectrum-legend-'+it[0]);
    });
  });
  o.legend.forEach(L=>{
    el('rect',{x:L[1],y:L[2]-6,width:4,height:4,fill:mutColors[L[3]]},g,'legend-marker-'+mutNames[L[3]]);
    txt(L[0],L[1]+8,L[2],{size:12,italic:true,fill:'#333'},g,'legend-entry-'+mutNames[L[3]]);
  });
}
onco({name:'panel-e-oncoplot-pex13-low',n:43,gx0:60,gx1:488.6,genes:eGenes,pct:ePct,rows:eRows,
  geneColor:r=>r<3?'#ff2020':(r==3?'#5040ee':'#222'),title:'PEX13 Low',sub:'Altered in 43 (100%) of 43 samples',tx:283,tx2:283,
  fsd:eTmbFsd,ifd:eTmbIfd,mis:eTmbMis,non:eTmbNon,tmbMax:422,ax:57,tmbLX:45,px:489,rb0:517,rb1:630,rbMax:31,nsx:574,
  ca:eSpCA,cg:eSpCG,ct:eSpCT,tc:eSpTC,ta:eSpTA,slx:519,
  legend:[['Missense_Mutation',62,1522,'G'],['In_Frame_Del',62,1536,'Y'],['Nonsense_Mutation',62,1550,'R'],['Frame_Shift_Del',191,1522,'B'],['Frame_Shift_Ins',191,1536,'P'],['Multi_Hit',191,1550,'K']]});
onco({name:'panel-f-oncoplot-pex13-high',n:46,gx0:717.7,gx1:1091.6,genes:fGenes,pct:fPct,rows:fRows,
  geneColor:r=>r<3?'#ff2020':(r==7?'#5040ee':'#222'),title:'PEX13 High',sub:'Altered in 46 (100%) of 46 samples',tx:930,tx2:926,
  fsd:fTmbFsd,ifd:fTmbIfd,mis:fTmbMis,non:fTmbNon,tmbMax:402,ax:714.6,tmbLX:702,px:1092.5,rb0:1121.7,rb1:1220,rbMax:41,nsx:1172,
  ca:fSpCA,cg:fSpCG,ct:fSpCT,tc:fSpTC,ta:fSpTA,slx:1124,
  legend:[['Missense_Mutation',717,1521,'G'],['Nonsense_Mutation',717,1532.5,'R'],['In_Frame_Del',717,1544,'Y'],['Splice_Site',717,1556,'O'],['Frame_Shift_Del',717,1568,'B'],['Frame_Shift_Ins',842,1521,'P'],['In_Frame_Ins',842,1532.5,'I'],['Translation_Start_Site',842,1544,'T'],['Multi_Hit',842,1556,'K']]});
</script>
</body></html>
